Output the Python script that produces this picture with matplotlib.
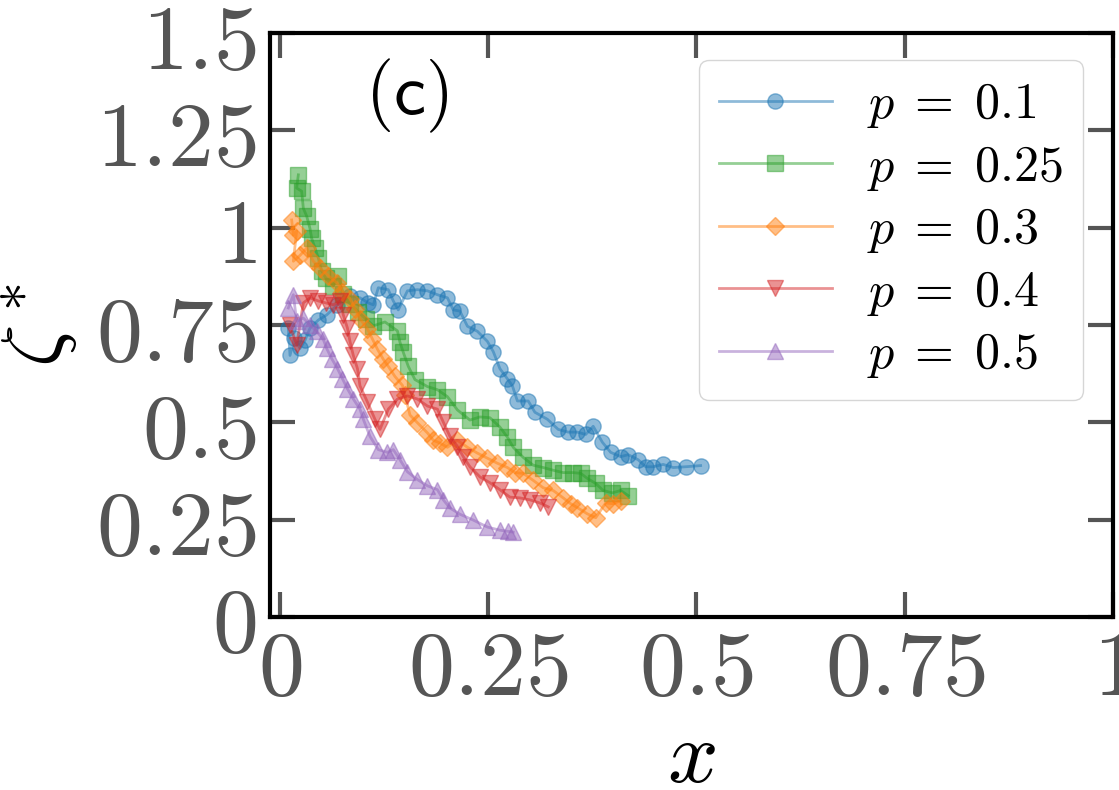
import matplotlib
matplotlib.use("Agg")
from matplotlib import pyplot as plt
from matplotlib import ticker

plt.rcParams["mathtext.fontset"] = "cm"

# p = 0.1
xP01 = [0.010, 0.012, 0.017, 0.024, 0.030, 0.036, 0.046, 0.056, 0.069, 0.084,
        0.096, 0.106, 0.112, 0.118, 0.130, 0.136, 0.142, 0.153, 0.165, 0.177,
        0.189, 0.201, 0.208, 0.216, 0.225, 0.237, 0.249, 0.256, 0.264, 0.273,
        0.279, 0.285, 0.298, 0.306, 0.321, 0.334, 0.346, 0.357, 0.367, 0.376,
        0.387, 0.397, 0.409, 0.418, 0.430, 0.439, 0.448, 0.460, 0.472, 0.487, 0.505]
yP01 = [0.742, 0.672, 0.716, 0.690, 0.711, 0.742, 0.763, 0.776, 0.802, 0.825,
        0.820, 0.807, 0.802, 0.846, 0.841, 0.812, 0.789, 0.838, 0.841, 0.838,
        0.828, 0.820, 0.789, 0.786, 0.747, 0.734, 0.708, 0.682, 0.638, 0.612,
        0.594, 0.555, 0.555, 0.526, 0.508, 0.482, 0.475, 0.475, 0.469, 0.490,
        0.449, 0.423, 0.412, 0.417, 0.404, 0.386, 0.386, 0.392, 0.384, 0.386, 0.389]

# p = 0.25
xP025 = [0.022, 0.020, 0.026, 0.028, 0.032, 0.036, 0.038, 0.042, 0.046, 0.050,
         0.055, 0.064, 0.070, 0.076, 0.084, 0.094, 0.103, 0.112, 0.126, 0.141,
         0.144, 0.148, 0.154, 0.162, 0.177, 0.189, 0.201, 0.213, 0.228, 0.240,
         0.252, 0.264, 0.273, 0.280, 0.292, 0.304, 0.316, 0.328, 0.340, 0.352,
         0.361, 0.369, 0.379, 0.388, 0.399, 0.409, 0.418]
yP025 = [1.136, 1.102, 1.094, 1.050, 1.030, 0.998, 0.973, 0.948, 0.922, 0.890,
         0.870, 0.851, 0.875, 0.831, 0.805, 0.784, 0.766, 0.748, 0.758, 0.735,
         0.706, 0.680, 0.644, 0.610, 0.592, 0.584, 0.566, 0.532, 0.506, 0.514,
         0.512, 0.488, 0.462, 0.436, 0.410, 0.390, 0.384, 0.377, 0.371, 0.371,
         0.369, 0.356, 0.343, 0.325, 0.319, 0.325, 0.312]

# p = 0.3
xP03 = [0.014, 0.016, 0.020, 0.016, 0.024, 0.032, 0.040, 0.048, 0.058, 0.069,
        0.075, 0.084, 0.090, 0.096, 0.105, 0.111, 0.117, 0.124, 0.130, 0.138,
        0.147, 0.150, 0.156, 0.165, 0.177, 0.184, 0.192, 0.201, 0.213, 0.225,
        0.237, 0.249, 0.261, 0.273, 0.282, 0.292, 0.304, 0.316, 0.328, 0.340,
        0.349, 0.357, 0.369, 0.379, 0.391, 0.400, 0.409]
yP03 = [1.020, 0.981, 0.992, 0.914, 0.929, 0.948, 0.914, 0.896, 0.877, 0.857,
        0.836, 0.818, 0.792, 0.766, 0.740, 0.714, 0.688, 0.662, 0.644, 0.618,
        0.595, 0.571, 0.519, 0.499, 0.473, 0.454, 0.447, 0.436, 0.454, 0.436,
        0.421, 0.408, 0.395, 0.384, 0.371, 0.369, 0.351, 0.332, 0.325, 0.306,
        0.291, 0.281, 0.265, 0.255, 0.293, 0.291, 0.299]

# p = 0.4
xP04 = [0.012, 0.020, 0.028, 0.036, 0.046, 0.055, 0.064, 0.072, 0.076, 0.081,
        0.084, 0.088, 0.093, 0.096, 0.105, 0.114, 0.120, 0.130, 0.141, 0.153,
        0.165, 0.177, 0.189, 0.196, 0.204, 0.213, 0.220, 0.228, 0.240, 0.252,
        0.264, 0.276, 0.288, 0.300, 0.312, 0.322]
yP04 = [0.750, 0.698, 0.807, 0.820, 0.812, 0.807, 0.802, 0.812, 0.776, 0.742,
        0.708, 0.672, 0.638, 0.594, 0.552, 0.508, 0.482, 0.534, 0.560, 0.568,
        0.560, 0.542, 0.534, 0.501, 0.464, 0.438, 0.412, 0.386, 0.360, 0.345,
        0.327, 0.308, 0.306, 0.301, 0.293, 0.283]

# p = 0.5
xP05 = [0.010, 0.016, 0.020, 0.028, 0.036, 0.044, 0.052, 0.056, 0.062, 0.069,
        0.075, 0.081, 0.088, 0.096, 0.100, 0.108, 0.118, 0.129, 0.136, 0.144,
        0.153, 0.165, 0.177, 0.189, 0.196, 0.204, 0.216, 0.232, 0.249, 0.264,
        0.274, 0.280]
yP05 = [0.794, 0.828, 0.760, 0.768, 0.750, 0.734, 0.713, 0.690, 0.664, 0.638,
        0.612, 0.586, 0.560, 0.534, 0.508, 0.464, 0.430, 0.423, 0.430, 0.404,
        0.373, 0.353, 0.337, 0.327, 0.301, 0.280, 0.264, 0.249, 0.231, 0.223,
        0.220, 0.218]

seriesX = [xP01, xP025, xP03, xP04, xP05]
seriesY = [yP01, yP025, yP03, yP04, yP05]
labels = [r"$p\;=\;0.1$", r"$p\;=\;0.25$", r"$p\;=\;0.3$", r"$p\;=\;0.4$", r"$p\;=\;0.5$"]
colors = ["tab:blue", "tab:green", "tab:orange", "tab:red", "tab:purple"]
markers = ["o", "s", "D", "v", "^"]
ticks = [0, 0.25, 0.5, 0.75, 1, 1.25, 1.5]

fig = plt.figure(figsize=(11.19, 7.9), dpi=100)
ax = fig.add_axes([0.2413, 0.219, 0.7533, 0.739])

for xs, ys, lab, col, mk in zip(seriesX, seriesY, labels, colors, markers):
    ms = 9 if mk == "D" else 11
    ax.plot(xs, ys, color=col, marker=mk, markersize=ms, linewidth=2, alpha=0.5, label=lab)

ax.set_xlim(-0.012, 1.0)
ax.set_ylim(0, 1.5)
ax.set_xticks([t for t in ticks if t <= 1])
ax.set_yticks(ticks)
fmt = ticker.FuncFormatter(lambda v, pos: "$%g$" % v)
ax.xaxis.set_major_formatter(fmt)
ax.yaxis.set_major_formatter(fmt)
ax.tick_params(which="both", direction="in", top=True, right=True, length=18, width=3,
               color="#555555", labelcolor="#555555", labelsize=66)
ax.tick_params(axis="x", pad=5)
ax.tick_params(axis="y", pad=10)
for sp in ax.spines.values():
    sp.set_linewidth(3)
    sp.set_color("black")

ax.set_xlabel("$x$", fontsize=64, labelpad=0)
ax.set_ylabel(r"$\zeta^*$", fontsize=60, rotation=90)
ax.yaxis.set_label_coords(-0.2254, 0.5)

ax.text(0.162, 0.892, r"$\mathsf{(c)}$", transform=ax.transAxes, fontsize=52,
        ha="center", va="center")

ax.legend(loc="upper right", bbox_to_anchor=(0.964, 0.954), borderaxespad=0,
          fontsize=36, handlelength=2.25, handletextpad=0.7, labelspacing=0.25)

fig.savefig("out.png", dpi=100)
